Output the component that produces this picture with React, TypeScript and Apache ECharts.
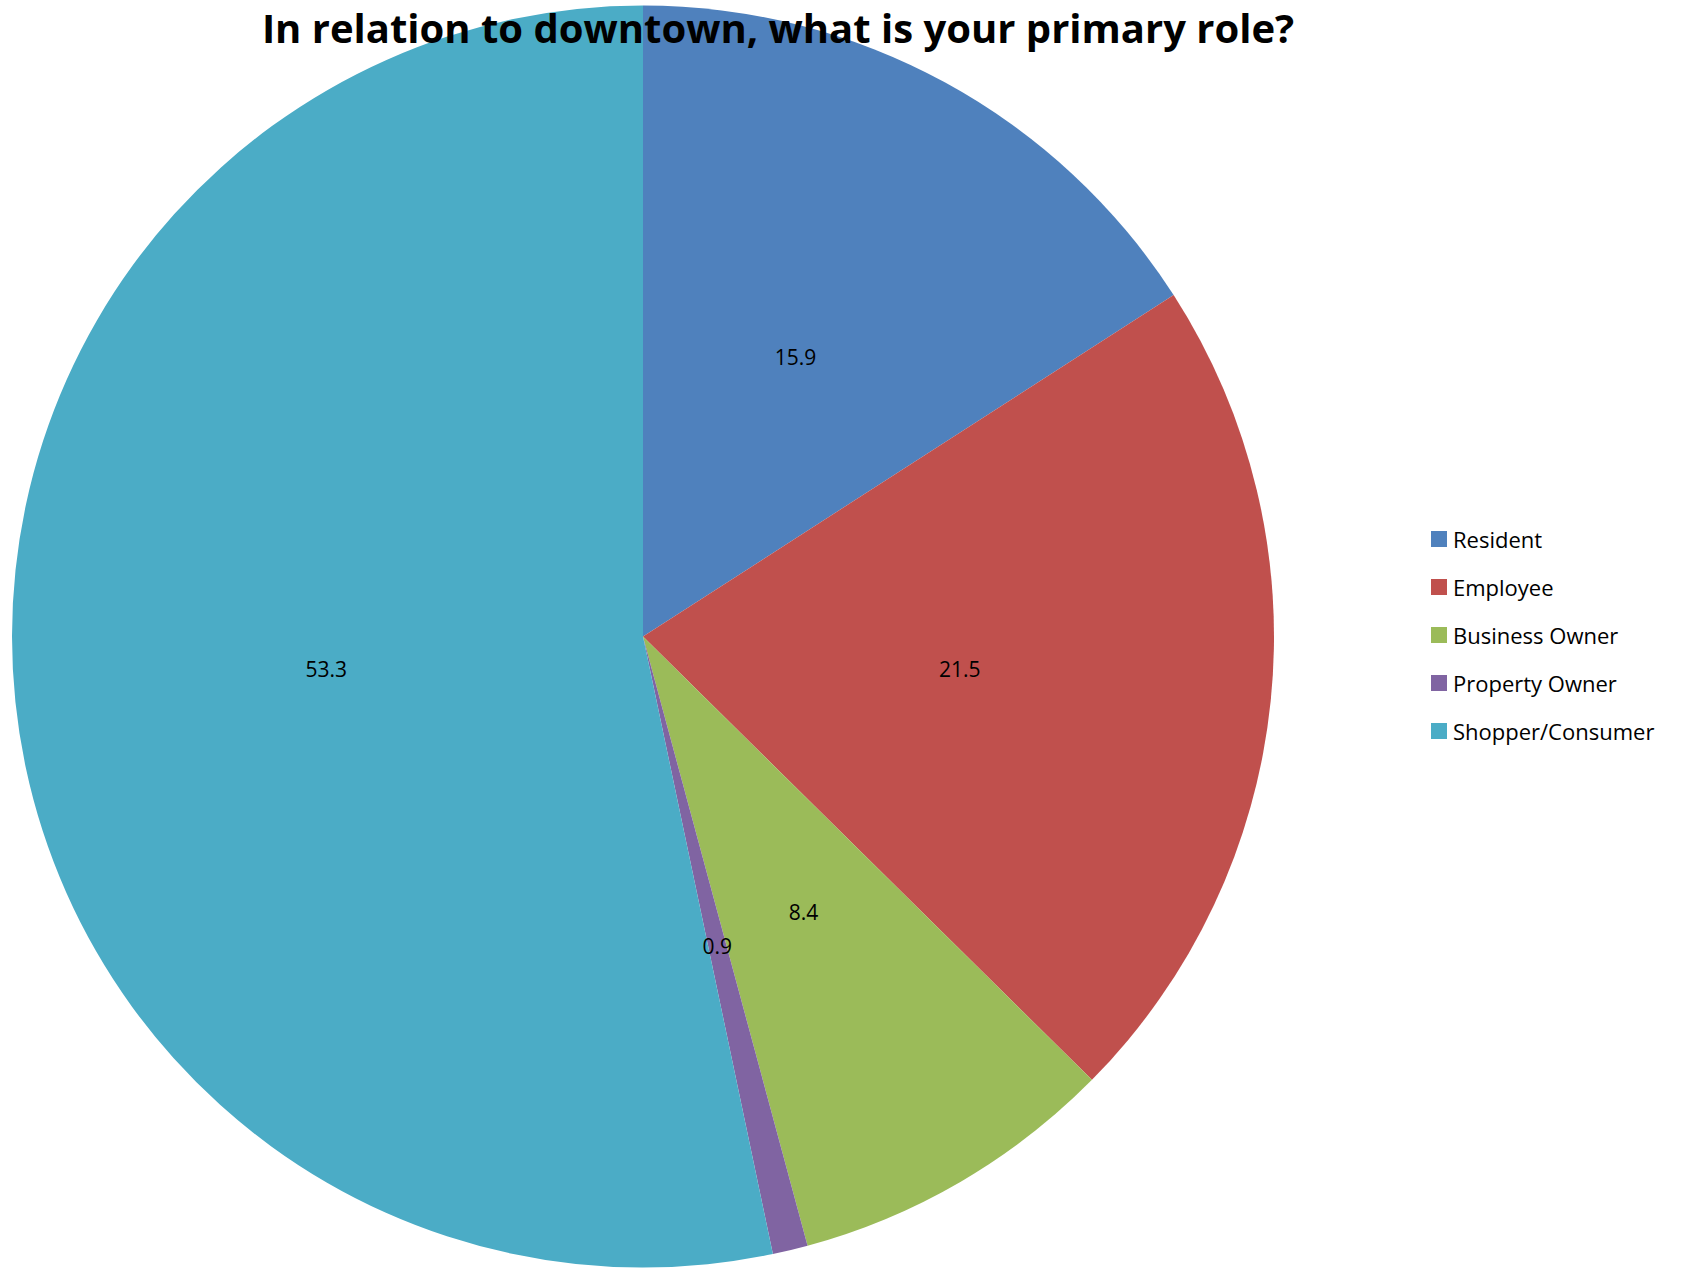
import React, { useEffect, useRef } from "react";
import * as echarts from "echarts";

const titleText = "In relation to downtown, what is your primary role?";
const categories = ["Resident", "Employee", "Business Owner", "Property Owner", "Shopper/Consumer"];
const values = [15.9, 21.5, 8.4, 0.9, 53.3];
const colors = ["#4F81BD", "#C0504D", "#9BBB59", "#8064A2", "#4BACC6"];

export default function App() {
  const ref = useRef<HTMLDivElement>(null);
  useEffect(() => {
    if (!ref.current) return;
    const chart = echarts.init(ref.current, null, { renderer: "svg" });
    const font = "'Open Sans', 'Noto Sans', sans-serif";
    chart.setOption({
      animation: false,
      backgroundColor: "#ffffff",
      title: {
        text: titleText,
        left: 773,
        top: 2,
        textAlign: "center",
        textStyle: {
          fontFamily: "'Liberation Sans Narrow', 'Open Sans', sans-serif",
          fontWeight: "bold",
          fontSize: 40,
          color: "#000000",
        },
      },
      legend: {
        orient: "vertical",
        left: 1426,
        top: 523,
        itemWidth: 16,
        itemHeight: 16,
        itemGap: 26,
        icon: "rect",
        data: categories,
        textStyle: { fontFamily: font, fontSize: 22, color: "#000000", padding: [0, 0, 0, 1] },
      },
      series: [
        {
          type: "pie",
          center: [643, 636.5],
          radius: [0, 631],
          startAngle: 90,
          clockwise: true,
          data: categories.map((c, i) => ({ name: c, value: values[i], itemStyle: { color: colors[i] } })),
          label: {
            show: true,
            position: "inside",
            formatter: (p: any) => String(values[p.dataIndex]),
            fontFamily: font,
            fontSize: 21,
            color: "#000000",
          },
          labelLine: { show: false },
          emphasis: { disabled: true },
          itemStyle: { borderWidth: 0 },
        },
      ],
    });
    return () => chart.dispose();
  }, []);
  return <div ref={ref} style={{ position: "absolute", left: 0, top: 0, width: 1685, height: 1268 }} />;
}
